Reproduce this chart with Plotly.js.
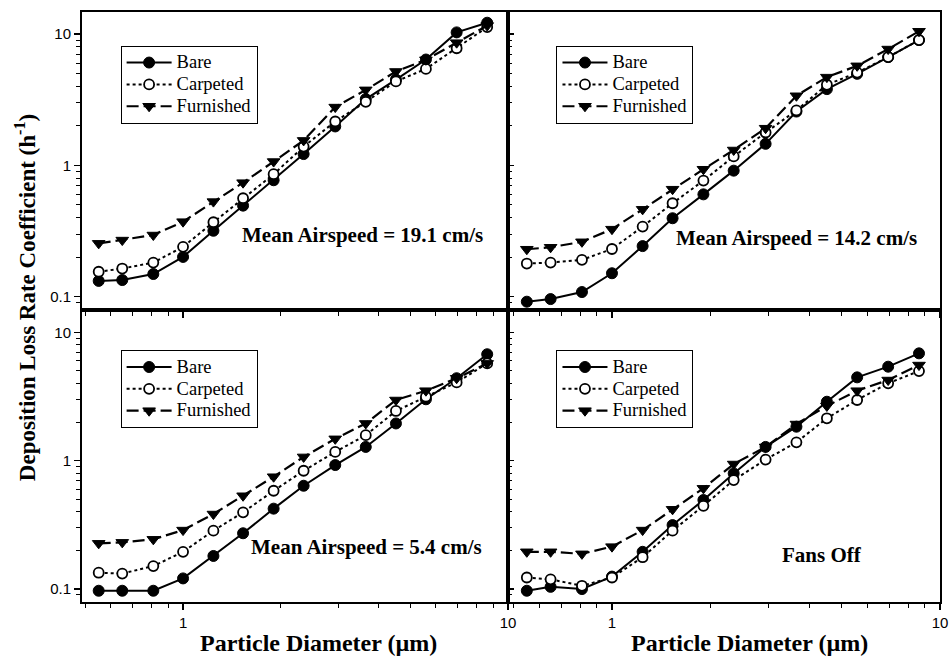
<!DOCTYPE html>
<html>
<head>
<meta charset="utf-8">
<script src="https://cdn.plot.ly/plotly-3.0.1.min.js"></script>
<style>html,body{margin:0;padding:0;background:#fff;} #chart{width:949px;height:659px;}</style>
</head>
<body>
<div id="chart"></div>
<script>
// Particle diameters (µm)
const diam = [0.55, 0.65, 0.81, 1.0, 1.24, 1.53, 1.9, 2.35, 2.94, 3.65, 4.52, 5.59, 6.95, 8.63];

// Mean airspeed = 19.1 cm/s
const bare191 = [0.132, 0.134, 0.149, 0.201, 0.318, 0.494, 0.771, 1.22, 1.98, 3.2, 4.5, 6.4, 10.3, 12.2];
const carp191 = [0.155, 0.164, 0.182, 0.240, 0.369, 0.562, 0.857, 1.39, 2.16, 3.05, 4.36, 5.43, 7.8, 11.3];
const furn191 = [0.255, 0.270, 0.295, 0.373, 0.530, 0.739, 1.07, 1.55, 2.78, 3.76, 5.19, 6.37, 8.6, 11.6];

// Mean airspeed = 14.2 cm/s
const bare142 = [0.0917, 0.096, 0.1086, 0.151, 0.243, 0.396, 0.602, 0.912, 1.46, 2.57, 3.81, 4.98, 6.68, 9.0];
const carp142 = [0.179, 0.182, 0.191, 0.231, 0.342, 0.515, 0.766, 1.17, 1.78, 2.62, 4.11, 5.09, 6.68, 9.0];
const furn142 = [0.230, 0.238, 0.262, 0.327, 0.463, 0.659, 0.935, 1.31, 1.92, 3.39, 4.70, 5.73, 7.69, 10.5];

// Mean airspeed = 5.4 cm/s
const bare54 = [0.097, 0.097, 0.097, 0.121, 0.181, 0.272, 0.423, 0.638, 0.925, 1.28, 1.95, 3.01, 4.39, 6.75];
const carp54 = [0.134, 0.132, 0.151, 0.195, 0.285, 0.396, 0.583, 0.835, 1.17, 1.58, 2.44, 3.15, 4.07, 5.73];
const furn54 = [0.227, 0.231, 0.244, 0.288, 0.384, 0.533, 0.750, 1.07, 1.48, 1.95, 2.97, 3.51, 4.39, 5.73];

// Fans off
const bareOff = [0.097, 0.104, 0.100, 0.125, 0.195, 0.315, 0.494, 0.796, 1.28, 1.84, 2.88, 4.46, 5.40, 6.86];
const carpOff = [0.123, 0.119, 0.106, 0.123, 0.177, 0.285, 0.445, 0.706, 1.02, 1.39, 2.14, 2.97, 4.01, 4.99];
const furnOff = [0.195, 0.195, 0.188, 0.214, 0.288, 0.418, 0.609, 0.942, 1.28, 1.93, 2.67, 3.51, 4.25, 5.56];

const seriesNames = ['Bare', 'Carpeted', 'Furnished'];
const panelLabels = ['Mean Airspeed = 19.1 cm/s', 'Mean Airspeed = 14.2 cm/s', 'Mean Airspeed = 5.4 cm/s', 'Fans Off'];
const xTickVals = [1, 10];
const xTickText = ['1', '10'];
const yTickVals = [0.1, 1, 10];
const yTickText = ['0.1', '1', '10'];

const panels = [
  {data: [bare191, carp191, furn191], xa: 'x', ya: 'y', legend: 'legend'},
  {data: [bare142, carp142, furn142], xa: 'x2', ya: 'y2', legend: 'legend2'},
  {data: [bare54, carp54, furn54], xa: 'x3', ya: 'y3', legend: 'legend3'},
  {data: [bareOff, carpOff, furnOff], xa: 'x4', ya: 'y4', legend: 'legend4'}
];

const styles = [
  {line: {color: '#000', width: 2, dash: 'solid'}, marker: {symbol: 'circle', size: 11, color: '#000', line: {color: '#000', width: 1}}},
  {line: {color: '#000', width: 2, dash: 'dot'}, marker: {symbol: 'circle', size: 10, color: '#fff', line: {color: '#000', width: 1.8}}},
  {line: {color: '#000', width: 2.2, dash: '12px,5px'}, marker: {symbol: 'triangle-down', size: 11, color: '#000', line: {color: '#000', width: 1}}}
];

const traces = [];
panels.forEach(p => {
  p.data.forEach((ys, i) => {
    traces.push({
      x: diam, y: ys, xaxis: p.xa, yaxis: p.ya, type: 'scatter', mode: 'lines+markers',
      name: '<span style="font-size:18.5px">' + seriesNames[i] + '</span>', legend: p.legend, showlegend: true,
      line: styles[i].line, marker: styles[i].marker, hoverinfo: 'skip'
    });
  });
});

const minorX = [0.5, 0.6, 0.7, 0.8, 0.9, 2, 3, 4, 5, 6, 7, 8, 9];
const minorY = [0.09, 0.2, 0.3, 0.4, 0.5, 0.6, 0.7, 0.8, 0.9, 2, 3, 4, 5, 6, 7, 8, 9];

const tickFont = {family: 'Liberation Sans, Arial, sans-serif', size: 15, color: '#000'};
function xAxis(domain, anchor, range, labels) {
  return {
    type: 'log', domain: domain, anchor: anchor, range: range,
    tickmode: 'array', tickvals: xTickVals, ticktext: xTickText,
    showticklabels: labels, ticks: 'outside', ticklen: 6, tickwidth: 1.2, tickcolor: '#000',
    minor: {tickmode: 'array', tickvals: minorX, ticks: 'outside', ticklen: 4, tickwidth: 1, tickcolor: '#000', showgrid: false},
    showline: true, linecolor: '#000', linewidth: 2, mirror: true,
    showgrid: false, zeroline: false, tickfont: tickFont
  };
}
function yAxis(domain, anchor, range, labels) {
  return {
    type: 'log', domain: domain, anchor: anchor, range: range,
    tickmode: 'array', tickvals: yTickVals, ticktext: yTickText,
    showticklabels: labels, ticks: labels ? 'outside' : 'inside', ticklen: 6, tickwidth: 1.2, tickcolor: '#000',
    minor: {tickmode: 'array', tickvals: minorY, ticks: labels ? 'outside' : 'inside', ticklen: 4, tickwidth: 1, tickcolor: '#000', showgrid: false},
    showline: true, linecolor: '#000', linewidth: 2, mirror: true,
    showgrid: false, zeroline: false, tickfont: tickFont
  };
}

const xDomL = [0, 0.4965], xDomR = [0.4965, 1];
const yDomT = [0.4949, 1], yDomB = [0, 0.4949];
const yRangeT = [-1.101, 1.168], yRangeB = [-1.101, 1.174];
const xRangeL = [-0.311, 1], xRangeR = [-0.317, 1];

const legendBase = {
  xanchor: 'left', yanchor: 'top', bgcolor: '#fff', bordercolor: '#000', borderwidth: 1,
  font: {family: 'Liberation Serif, Times New Roman, serif', size: 14.5, color: '#000'},
  itemwidth: 45, tracegroupgap: 0
};
function legendAt(x, y) { return Object.assign({}, legendBase, {x: x, y: y}); }

const serif = 'Liberation Serif, Times New Roman, serif';
const labelFont = {family: serif, size: 21, color: '#000'};
const titleFont = {family: serif, size: 24, color: '#000'};
function note(text, x, y, font, extra) {
  return Object.assign({text: '<b>' + text + '</b>', xref: 'paper', yref: 'paper', x: x, y: y,
    xanchor: 'center', yanchor: 'middle', showarrow: false, font: font}, extra || {});
}

const layout = {
  width: 949, height: 659,
  margin: {l: 82, r: 9, t: 12, b: 57},
  paper_bgcolor: '#fff', plot_bgcolor: '#fff',
  showlegend: true,
  xaxis: xAxis(xDomL, 'y', xRangeL, false),
  yaxis: yAxis(yDomT, 'x', yRangeT, true),
  xaxis2: xAxis(xDomR, 'y2', xRangeR, false),
  yaxis2: yAxis(yDomT, 'x2', yRangeT, false),
  xaxis3: xAxis(xDomL, 'y3', xRangeL, true),
  yaxis3: yAxis(yDomB, 'x3', yRangeB, true),
  xaxis4: xAxis(xDomR, 'y4', xRangeR, true),
  yaxis4: yAxis(yDomB, 'x4', yRangeB, false),
  legend: legendAt(0.045, 0.943),
  legend2: legendAt(0.553, 0.943),
  legend3: legendAt(0.045, 0.427),
  legend4: legendAt(0.553, 0.427),
  annotations: [
    note(panelLabels[0], 0.3275, 0.622, labelFont),
    note(panelLabels[1], 0.8322, 0.617, labelFont),
    note(panelLabels[2], 0.3316, 0.0932, labelFont),
    note(panelLabels[3], 0.8625, 0.0797, labelFont),
    note('Particle Diameter (\u00b5m)', 0.2762, -0.0695, titleFont),
    note('Particle Diameter (\u00b5m)', 0.7774, -0.0695, titleFont),
    note('Deposition Loss Rate Coefficient (h<sup>-1</sup>)', -0.0664, 0.515, {family: serif, size: 23, color: '#000'}, {textangle: -90})
  ]
};

Plotly.newPlot('chart', traces, layout, {displayModeBar: false, staticPlot: true});
</script>
</body>
</html>
